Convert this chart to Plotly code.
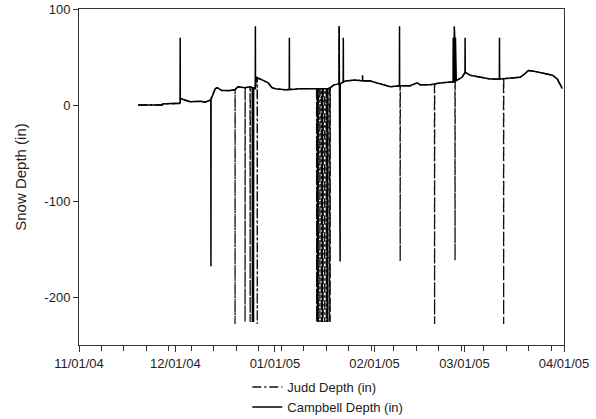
import pandas as pd
import plotly.graph_objects as go

# Shared snow-depth baseline (in)
base_dates = [
    "2004-11-19 10:00", "2004-11-26 22:00", "2004-11-27 00:00", "2004-12-02 07:00",
    "2004-12-02 14:00", "2004-12-04 00:00", "2004-12-05 14:00", "2004-12-08 17:00",
    "2004-12-10 07:00", "2004-12-11 19:00", "2004-12-13 10:00", "2004-12-14 00:00",
    "2004-12-15 12:00", "2004-12-18 00:00", "2004-12-19 14:00", "2004-12-20 12:00",
    "2004-12-22 17:00", "2004-12-24 07:00", "2004-12-25 17:00", "2004-12-26 05:00",
    "2004-12-28 00:00", "2004-12-29 22:00", "2004-12-31 02:00", "2005-01-01 02:00",
    "2005-01-04 05:00", "2005-01-08 19:00", "2005-01-13 12:00", "2005-01-18 05:00",
    "2005-01-19 10:00", "2005-01-20 17:00", "2005-01-22 22:00", "2005-01-26 00:00",
    "2005-01-30 17:00", "2005-02-02 19:00", "2005-02-05 22:00", "2005-02-09 00:00",
    "2005-02-12 02:00", "2005-02-14 07:00", "2005-02-15 05:00", "2005-02-18 07:00",
    "2005-02-21 12:00", "2005-02-24 14:00", "2005-02-25 19:00", "2005-02-26 19:00",
    "2005-02-28 07:00", "2005-03-01 05:00", "2005-03-02 19:00", "2005-03-05 22:00",
    "2005-03-09 00:00", "2005-03-12 05:00", "2005-03-15 07:00", "2005-03-18 10:00",
    "2005-03-19 22:00", "2005-03-20 22:00", "2005-03-23 00:00", "2005-03-26 05:00",
    "2005-03-28 10:00", "2005-03-29 22:00", "2005-03-31 12:00",
]
base_values = [
    0, 0, 1, 1.5,
    7, 5, 3.5, 4,
    3, 5, 17, 18,
    15, 15, 16, 19,
    18, 19, 17, 29,
    26, 23, 18, 17,
    16, 17, 17, 18,
    21, 22, 25, 26,
    25, 22, 19, 20,
    20, 23, 21, 21,
    23, 24, 24, 26,
    29, 34, 31, 29,
    27, 27, 28, 29,
    33, 36, 35, 33,
    31, 27, 17,
]

# Campbell sensor spikes: time, spike value, level at the foot of the spike
campbell_spike_dates = [
    "2004-12-02 12:00", "2004-12-12 02:00", "2004-12-25 00:00", "2004-12-25 08:00",
    "2004-12-25 22:00", "2005-01-05 12:00",
    "2005-01-14 07:00", "2005-01-15 19:00", "2005-01-17 07:00",
    "2005-01-21 00:00", "2005-01-21 07:00", "2005-01-22 07:00", "2005-01-28 07:00",
    "2005-02-08 19:00",
    "2005-02-25 12:00", "2005-02-25 16:00", "2005-02-25 20:00", "2005-02-26 00:00",
    "2005-02-26 05:00", "2005-02-26 10:00",
    "2005-03-01 05:00", "2005-03-11 22:00",
]
campbell_spike_values = [
    70, -168, -226, -226,
    82, 70,
    -226, -226, -226,
    82, -163, 70, 31,
    82,
    70, 70, 82, 70,
    70, 70,
    70, 70,
]
campbell_spike_feet = [
    2, 6, 18, 18,
    17, 16,
    17, 17, 17,
    22, 22, 24, 25,
    20,
    24, 24, 24, 25,
    25, 25,
    34, 27,
]

# Judd sensor spikes
judd_spike_dates = [
    "2004-12-19 14:00", "2004-12-22 17:00", "2004-12-24 07:00", "2004-12-26 12:00",
    "2005-01-14 00:00", "2005-01-14 12:00", "2005-01-15 00:00", "2005-01-15 12:00",
    "2005-01-16 00:00", "2005-01-16 12:00", "2005-01-17 00:00", "2005-01-17 12:00",
    "2005-01-18 00:00", "2005-01-18 05:00",
    "2005-01-21 00:00", "2005-02-09 00:00", "2005-02-19 17:00", "2005-02-26 02:00",
    "2005-03-13 05:00",
]
judd_spike_values = [
    -228, -226, -226, -228,
    -226, -226, -226, -226,
    -226, -226, -226, -226,
    -226, -226,
    82, -163, -228, -162,
    -228,
]
judd_spike_feet = [
    16, 18, 19, 28,
    17, 17, 17, 17,
    17, 17, 17, 17,
    17, 18,
    22, 20, 22, 25,
    28,
]

x_tick_labels = ["11/01/04", "12/01/04", "01/01/05", "02/01/05", "03/01/05", "04/01/05"]
x_tick_dates = ["2004-11-01", "2004-12-01", "2005-01-01", "2005-02-01", "2005-03-01", "2005-04-01"]
y_tick_values = [100, 0, -100, -200]
y_tick_labels = ["100", "0", "-100", "-200"]


def build_series(spike_dates, spike_values, spike_feet):
    rows = [(pd.Timestamp(d), v) for d, v in zip(base_dates, base_values)]
    hour = pd.Timedelta(hours=1)
    for d, v, f in zip(spike_dates, spike_values, spike_feet):
        t = pd.Timestamp(d)
        rows += [(t - hour, f), (t, v), (t + hour, f)]
    df = pd.DataFrame(rows, columns=["t", "v"]).sort_values("t", kind="stable")
    return df


judd = build_series(judd_spike_dates, judd_spike_values, judd_spike_feet)
camp = build_series(campbell_spike_dates, campbell_spike_values, campbell_spike_feet)

FONT = "Liberation Sans, Arial, sans-serif"

fig = go.Figure()
fig.add_trace(go.Scatter(
    x=judd["t"], y=judd["v"], mode="lines", name="Judd Depth (in)",
    line=dict(color="#111111", width=1.3, dash="9px,3px,2px,3px"),
))
fig.add_trace(go.Scatter(
    x=camp["t"], y=camp["v"], mode="lines", name="Campbell Depth (in)",
    line=dict(color="#000000", width=1.5),
))

fig.update_layout(
    width=596, height=419,
    margin=dict(l=79, r=32, t=9, b=74),
    paper_bgcolor="white", plot_bgcolor="white",
    font=dict(family=FONT, size=13, color="#222222"),
    showlegend=True,
    legend=dict(
        x=0.347, xanchor="left",
        yref="container", y=0.112, yanchor="top",
        bgcolor="rgba(0,0,0,0)", font=dict(size=13, color="#222222"),
        tracegroupgap=0, itemwidth=30,
    ),
    xaxis=dict(
        range=["2004-11-01", "2005-04-01"], automargin=False,
        tickmode="array", tickvals=x_tick_dates, ticktext=x_tick_labels,
        ticks="outside", ticklen=6, tickcolor="#333333", tickwidth=1,
        showline=True, linecolor="#333333", linewidth=1, mirror=True,
        showgrid=False, zeroline=False,
        minor=dict(tick0="2004-11-01", dtick=7 * 86400000, ticks="outside",
                   ticklen=5, tickcolor="#333333", showgrid=False),
    ),
    yaxis=dict(
        range=[-250, 100], automargin=False,
        tickmode="array", tickvals=y_tick_values, ticktext=y_tick_labels,
        ticks="outside", ticklen=5, tickcolor="#333333", tickwidth=1,
        showline=True, linecolor="#333333", linewidth=1, mirror=True,
        showgrid=False, zeroline=False,
        title=dict(text="Snow Depth (in)", font=dict(size=15), standoff=14),
    ),
)

fig.write_html(
    "out.html",
    config={"displayModeBar": False},
    post_script="document.body.style.margin='0px';",
)
